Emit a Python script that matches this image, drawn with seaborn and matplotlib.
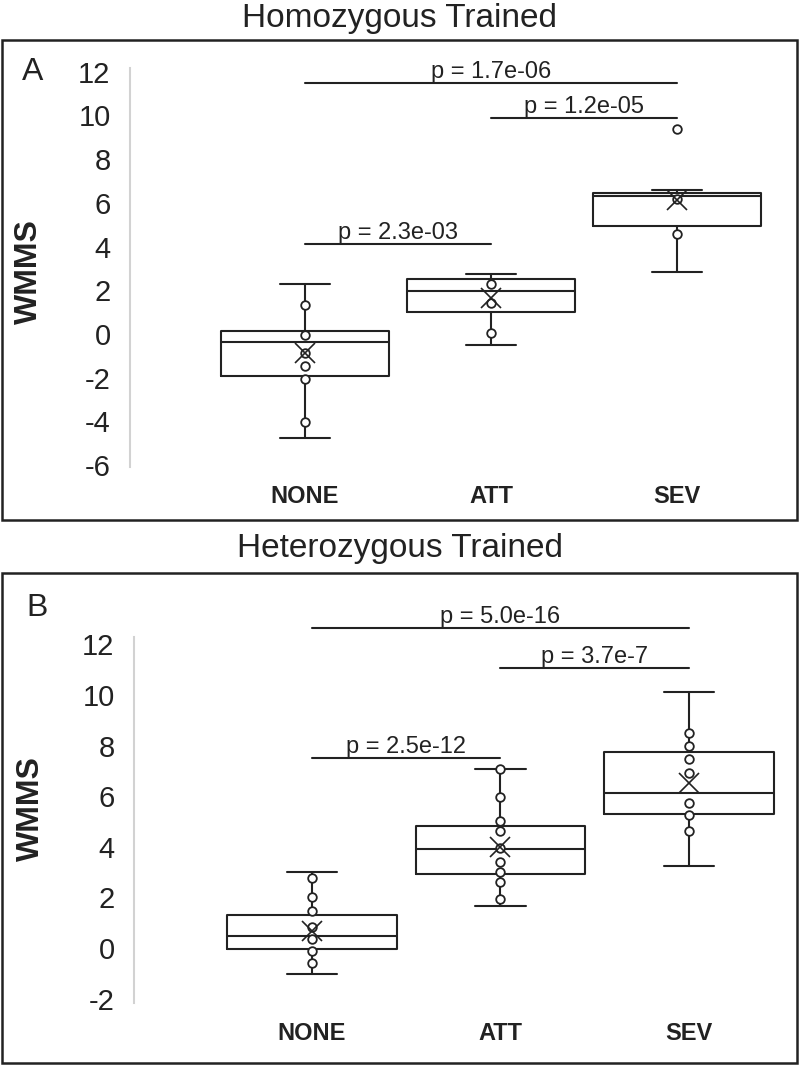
import numpy as np
import pandas as pd
import matplotlib
matplotlib.use("Agg")
import matplotlib.pyplot as plt
from matplotlib.patches import Rectangle
import seaborn as sns

sns.set_theme(style="white")
plt.rcParams['font.family'] = ['Liberation Sans', 'DejaVu Sans']

categories = ["NONE", "ATT", "SEV"]

# ---- Panel A: Homozygous Trained ----
a_q1 = [-1.91, 0.99, 4.96]
a_med = [-0.35, 1.96, 6.32]
a_q3 = [0.14, 2.52, 6.47]
a_whislo = [-4.74, -0.49, 2.84]
a_whishi = [2.27, 2.76, 6.59]
a_mean = [-0.88, 1.66, 6.13]
a_pts_none = [1.34, -0.03, -0.87, -1.48, -2.07, -4.04]
a_pts_att = [2.29, 1.40, 0.02]
a_pts_sev = [9.37, 6.16, 4.57]
a_pairs = [(0, 2), (1, 2), (0, 1)]
a_plabels = ["p = 1.7e-06", "p = 1.2e-05", "p = 2.3e-03"]
a_bar_y = [11.49, 9.90, 4.12]

# ---- Panel B: Heterozygous Trained ----
b_q1 = [-0.02, 2.92, 5.30]
b_med = [0.46, 3.90, 6.11]
b_q3 = [1.31, 4.81, 7.76]
b_whislo = [-1.04, 1.67, 3.26]
b_whishi = [3.02, 7.06, 10.10]
b_mean = [0.66, 4.00, 6.51]
b_pts_none = [2.78, 2.02, 1.46, 0.82, 0.34, -0.10, -0.57]
b_pts_att = [7.06, 5.98, 5.04, 4.63, 3.95, 3.40, 3.00, 2.62, 1.93]
b_pts_sev = [8.48, 8.00, 7.46, 6.90, 5.75, 5.26, 4.63]
b_pairs = [(0, 2), (1, 2), (0, 1)]
b_plabels = ["p = 5.0e-16", "p = 3.7e-7", "p = 2.5e-12"]
b_bar_y = [12.66, 11.05, 7.50]

INK = "#222222"
W, H = 800, 1065
fig = plt.figure(figsize=(W / 100, H / 100), dpi=100)


def draw_panel(ax, q1, med, q3, wlo, whi, mean, pts, pairs, plabels, bar_y,
               yticks, ylim, xlim, xpad):
    stats = []
    for i in range(3):
        stats.append(dict(q1=q1[i], med=med[i], q3=q3[i], whislo=wlo[i],
                          whishi=whi[i], mean=mean[i], fliers=[], label=categories[i]))
    bp = ax.bxp(stats, positions=[0, 1, 2], widths=0.9, showmeans=True,
                showfliers=False, capwidths=0.27, manage_ticks=False,
                boxprops=dict(color=INK, lw=1.5),
                whiskerprops=dict(color=INK, lw=1.5),
                capprops=dict(color=INK, lw=1.5),
                medianprops=dict(color=INK, lw=1.5),
                meanprops=dict(marker='x', markersize=14, markeredgecolor=INK,
                               markeredgewidth=1.2, linestyle='none'))
    grp, val = [], []
    for c, p in zip(categories, pts):
        grp += [c] * len(p)
        val += list(p)
    df = pd.DataFrame({"group": grp, "WMMS": val})
    sns.stripplot(data=df, x="group", y="WMMS", order=categories, jitter=False,
                  color="white", edgecolor=INK, linewidth=1.3, size=6.2,
                  zorder=3, ax=ax)
    for m in bp["means"]:
        m.set_zorder(5)
    for (i, j), lab, y in zip(pairs, plabels, bar_y):
        ax.plot([i, j], [y, y], color=INK, lw=1.5, clip_on=False)
        ax.text((i + j) / 2, y, lab, ha="center", va="bottom", fontsize=17,
                color=INK, clip_on=False)
    ax.set_xlim(*xlim)
    ax.set_ylim(*ylim)
    ax.set_yticks(yticks)
    ax.set_yticklabels([str(t) for t in yticks], fontsize=21, color=INK)
    ax.set_xticks([0, 1, 2])
    ax.set_xticklabels(categories, fontsize=17, fontweight="bold", color=INK)
    ax.tick_params(axis="y", length=0, pad=14)
    ax.tick_params(axis="x", length=0, pad=xpad)
    ax.set_xlabel("")
    ax.set_ylabel("WMMS", fontsize=23, fontweight="bold", color=INK)
    for s in ["top", "right", "bottom"]:
        ax.spines[s].set_visible(False)
    ax.spines["left"].set_color("#d2d2d2")
    ax.spines["left"].set_linewidth(1.5)
    ax.grid(False)
    ax.set_facecolor("none")


# Panel A axes
axA = fig.add_axes([130 / W, 1 - 467 / H, 660 / W, 399 / H])
draw_panel(axA, a_q1, a_med, a_q3, a_whislo, a_whishi, a_mean,
           [a_pts_none, a_pts_att, a_pts_sev], a_pairs, a_plabels, a_bar_y,
           list(range(-6, 13, 2)), (-6.09, 12.17), (-0.941, 2.608), 13)
axA.yaxis.set_label_coords((44 - 130) / 660, 0.49)

# Panel B axes
axB = fig.add_axes([134 / W, 1 - 1003 / H, 656 / W, 366 / H])
draw_panel(axB, b_q1, b_med, b_q3, b_whislo, b_whishi, b_mean,
           [b_pts_none, b_pts_att, b_pts_sev], b_pairs, b_plabels, b_bar_y,
           list(range(-2, 13, 2)), (-2.17, 12.29), (-0.944, 2.536), 14)
axB.yaxis.set_label_coords((46 - 134) / 656, 0.53)

# Frames
fig.add_artist(Rectangle((2 / W, 1 - 520 / H), 795 / W, 480 / H,
                         transform=fig.transFigure, fill=False, lw=1.8, ec=INK))
fig.add_artist(Rectangle((2 / W, 1 - 1063 / H), 795 / W, 490 / H,
                         transform=fig.transFigure, fill=False, lw=1.8, ec=INK))

# Titles and panel letters
fig.text(0.5, 1 - 18 / H, "Homozygous Trained", ha="center", va="center",
         fontsize=24, color=INK)
fig.text(0.5, 1 - 548 / H, "Heterozygous Trained", ha="center", va="center",
         fontsize=24, color=INK)
fig.text(33 / W, 1 - 72 / H, "A", ha="center", va="center", fontsize=23, color=INK)
fig.text(37 / W, 1 - 608 / H, "B", ha="center", va="center", fontsize=23, color=INK)

fig.savefig("out.png", dpi=100, facecolor="white")
